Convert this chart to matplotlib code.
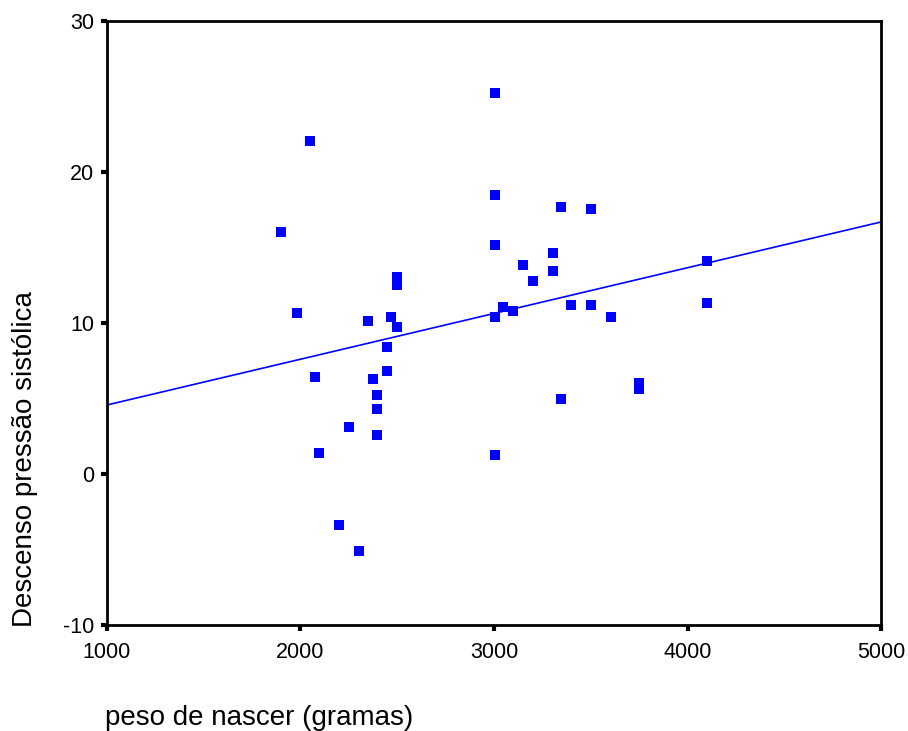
import matplotlib
matplotlib.use("Agg")
import matplotlib.pyplot as plt

plt.rcParams['font.family'] = ['Liberation Sans', 'DejaVu Sans']
plt.rcParams['axes.unicode_minus'] = False

# peso de nascer (gramas) vs descenso da pressao sistolica
peso = [1900, 2050, 1980, 2075, 2096, 2200, 2300, 2250, 2350, 2468,
        2500, 2500, 2500, 2447, 2447, 2375, 2395, 2395, 2395, 3005,
        3005, 3046, 3098, 3150, 3201, 3005, 3005, 3005, 3346, 3501,
        3305, 3305, 3398, 3501, 3605, 4101, 4101, 3346, 3749, 3749]
descenso = [16.0, 22.05, 10.66, 6.42, 1.4, -3.4, -5.1, 3.1, 10.13, 10.42,
            9.71, 13.03, 12.54, 8.4, 6.82, 6.29, 5.23, 4.3, 2.58, 1.26,
            10.4, 11.06, 10.8, 13.84, 12.78, 25.2, 18.48, 15.17, 17.68, 17.55,
            14.64, 13.44, 11.19, 11.19, 10.4, 14.11, 11.32, 4.97, 6.05, 5.61]

# reta de regressao
fit_x = [1000, 5000]
fit_y = [4.57, 16.69]

xticks = [1000, 2000, 3000, 4000, 5000]
yticks = [-10, 0, 10, 20, 30]

fig = plt.figure(figsize=(9.08, 7.31), dpi=100)
ax = fig.add_axes([0.1178, 0.145, 0.8525, 0.8263])

ax.plot(peso, descenso, 's', color='#0000ff', markersize=7.2, markeredgewidth=0)
ax.plot(fit_x, fit_y, color='#0000ff', linewidth=1.2)

ax.set_xlim(1000, 5000)
ax.set_ylim(-10, 30)
ax.set_xticks(xticks)
ax.set_yticks(yticks)
ax.tick_params(direction='out', length=4, width=3, labelsize=15.5)
ax.tick_params(axis='x', pad=8)
ax.tick_params(axis='y', pad=5)
for s in ax.spines.values():
    s.set_linewidth(2)

fig.text(0.028, 0.372, 'Descenso pressão sistólica', fontsize=20,
         rotation=90, ha='center', va='center')
fig.text(0.116, 0.018, 'peso de nascer (gramas)', fontsize=20, ha='left', va='center')

fig.savefig('out.png', dpi=100)
